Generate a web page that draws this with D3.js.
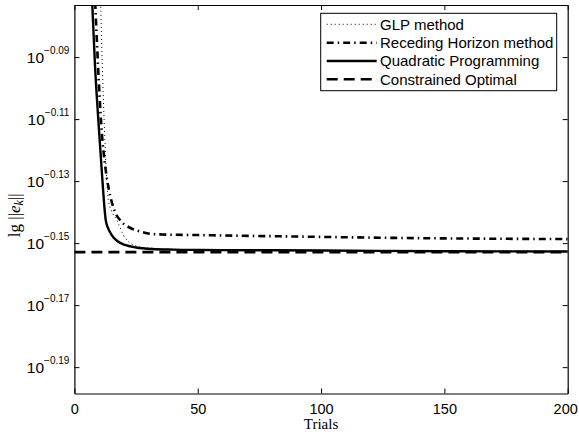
<!DOCTYPE html>
<html><head><meta charset="utf-8">
<script src="https://cdn.jsdelivr.net/npm/d3@7"></script>
<style>body{margin:0;background:#fff}svg{display:block}</style>
</head><body>
<svg id="chart" width="579" height="435"></svg>
<script>
// ---- data (y values given as log10 exponents) ----
const trialsGLP = [8.5, 10.66, 11.31, 12.2, 13.1, 13.74, 15, 17.15, 20.5, 25.8, 31.5, 34.7, 50, 100, 150, 200];
const glpLog    = [-0.03, -0.0732, -0.0926, -0.1135, -0.1296, -0.1361, -0.1395, -0.1425, -0.1483, -0.1511, -0.1517, -0.1519, -0.1521, -0.1523, -0.1525, -0.1526];

const trialsRH = [6.5, 8.47, 9.57, 10.9, 12.69, 14.03, 16.46, 19, 22.95, 27, 30.93, 35.4, 50, 83.4, 140.1, 200];
const rhLog    = [-0.035, -0.0732, -0.0926, -0.1119, -0.1264, -0.1329, -0.1399, -0.1430, -0.1452, -0.1463, -0.1470, -0.1472, -0.1474, -0.1478, -0.1484, -0.1487];

const trialsQP = [5, 7.26, 8.35, 9.97, 11.07, 12.69, 13.62, 15.12, 17.5, 20.52, 25, 31.46, 40, 50.9, 75, 100, 150, 200];
const qpLog    = [-0.03, -0.0732, -0.0926, -0.1135, -0.1264, -0.1425, -0.1451, -0.1474, -0.1494, -0.1506, -0.1514, -0.1519, -0.1521, -0.1522, -0.1523, -0.1524, -0.1526, -0.1527];

const trialsCO = [0, 200];
const coLog    = [-0.1529, -0.1529];

const xTicks = [0, 50, 100, 150, 200];
const yTickExps = [-0.19, -0.17, -0.15, -0.13, -0.11, -0.09];
const yTickLabels = ["\u22120.19", "\u22120.17", "\u22120.15", "\u22120.13", "\u22120.11", "\u22120.09"];
const yDomainExp = [-0.1985, -0.0732];
const legendNames = ["GLP method", "Receding Horizon method", "Quadratic Programming", "Constrained Optimal"];

// ---- layout ----
const L = 74.4, R = 567.7, T = 5, B = 393.5;
const svg = d3.select("#chart");
const x = d3.scaleLinear().domain([0, 200]).range([L, R]);
const y = d3.scaleLog().domain(yDomainExp.map(e => Math.pow(10, e))).range([B, T]);

const sans = "'Liberation Sans', Arial, Helvetica, sans-serif";
const serif = "'Liberation Serif', 'Times New Roman', serif";

svg.append("defs").append("clipPath").attr("id", "clip")
  .append("rect").attr("x", L).attr("y", T).attr("width", R - L).attr("height", B - T);

const yTickVals = yTickExps.map(e => Math.pow(10, e));

// axes with inward ticks on all four sides
const gB = svg.append("g").attr("transform", `translate(0,${B})`)
  .call(d3.axisBottom(x).tickValues(xTicks).tickSizeInner(-5).tickSizeOuter(0).tickPadding(10));
const gT = svg.append("g").attr("transform", `translate(0,${T})`)
  .call(d3.axisTop(x).tickValues(xTicks).tickSizeInner(-5).tickSizeOuter(0).tickFormat(""));
const gL = svg.append("g").attr("transform", `translate(${L},0)`)
  .call(d3.axisLeft(y).tickValues(yTickVals).tickSizeInner(-5).tickSizeOuter(0).tickFormat(""));
const gR = svg.append("g").attr("transform", `translate(${R},0)`)
  .call(d3.axisRight(y).tickValues(yTickVals).tickSizeInner(-5).tickSizeOuter(0).tickFormat(""));
[gB, gT, gL, gR].forEach(g => {
  g.selectAll(".domain").attr("stroke", "#000").attr("stroke-width", 1.2);
  g.selectAll(".tick line").attr("stroke", "#000").attr("stroke-width", 1);
});
gB.selectAll(".tick text").attr("font-family", sans).attr("font-size", 14.5).attr("fill", "#000")
  .attr("dx", d => d === 200 ? -2.5 : 0);

// y tick labels: 10^exp
yTickVals.forEach((v, i) => {
  const t = svg.append("text").attr("x", L - 5).attr("y", y(v) + 5.5)
    .attr("text-anchor", "end").attr("font-family", sans).attr("fill", "#000");
  t.append("tspan").attr("font-size", 15.5).text("10");
  t.append("tspan").attr("font-size", 10).attr("dy", -8.5).text(yTickLabels[i]);
});

// axis labels
svg.append("text").attr("x", (L + R) / 2).attr("y", 429)
  .attr("text-anchor", "middle").attr("font-family", serif).attr("font-size", 15).text("Trials");
const yl = svg.append("text").attr("transform", `translate(20,${(T + B) / 2 + 16}) rotate(-90)`)
  .attr("text-anchor", "middle").attr("font-family", serif).attr("font-size", 17);
yl.append("tspan").text("lg ||");
yl.append("tspan").attr("font-style", "italic").text("e");
yl.append("tspan").attr("font-style", "italic").attr("font-size", 12).attr("dy", 3).text("k");
yl.append("tspan").attr("dy", -3).text("||");

// series
const styles = [
  {w: 1, dash: "1,3"},
  {w: 2.6, dash: "7,4,1.5,4"},
  {w: 2.4, dash: null},
  {w: 2.6, dash: "11,6"}
];
const series = [
  trialsGLP.map((t, i) => [t, glpLog[i]]),
  trialsRH.map((t, i) => [t, rhLog[i]]),
  trialsQP.map((t, i) => [t, qpLog[i]]),
  trialsCO.map((t, i) => [t, coLog[i]])
];
const line = d3.line().x(d => x(d[0])).y(d => y(Math.pow(10, d[1]))).curve(d3.curveMonotoneX);
const plot = svg.append("g").attr("clip-path", "url(#clip)");
[3, 0, 1, 2].forEach(i => {
  plot.append("path").attr("d", line(series[i])).attr("fill", "none").attr("stroke", "#000")
    .attr("stroke-width", styles[i].w).attr("stroke-dasharray", styles[i].dash);
});

// legend
const lg = svg.append("g");
lg.append("rect").attr("x", 320.7).attr("y", 13.3).attr("width", 236).attr("height", 77.4)
  .attr("fill", "#fff").attr("stroke", "#000").attr("stroke-width", 1);
const rows = [24.3, 42.7, 61, 79.3];
legendNames.forEach((n, i) => {
  lg.append("line").attr("x1", 326.7).attr("x2", 376.7).attr("y1", rows[i]).attr("y2", rows[i])
    .attr("stroke", "#000").attr("stroke-width", styles[i].w).attr("stroke-dasharray", styles[i].dash);
  lg.append("text").attr("x", 380).attr("y", rows[i] + 5.4).attr("font-family", sans)
    .attr("font-size", 15).text(n);
});
</script>
</body></html>
